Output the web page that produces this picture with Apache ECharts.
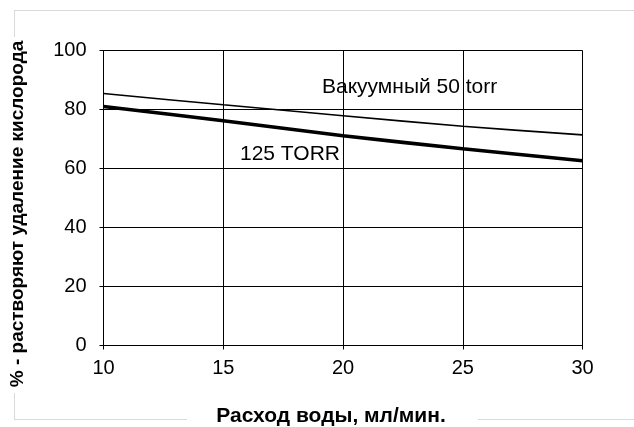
<!DOCTYPE html>
<html>
<head>
<meta charset="utf-8">
<script src="https://cdn.jsdelivr.net/npm/echarts@6/dist/echarts.min.js"></script>
<style>html,body{margin:0;padding:0;background:#fff}#c{width:634px;height:427px}</style>
</head>
<body>
<div id="c"></div>
<script>
var xValues = [10, 15, 20, 25, 30];
var vacuum50 = [85.4, 81.6, 77.9, 74.3, 71.4];
var torr125 = [81.0, 76.2, 71.1, 66.7, 62.6];
var xTitle = 'Расход воды, мл/мин.';
var yTitle = '% - растворяют удаление кислорода';
var label1 = 'Вакуумный 50 torr';
var label2 = '125 TORR';

var FONT = '"Liberation Sans", Arial, sans-serif';
function pairs(xs, ys) { return xs.map(function (x, i) { return [x, ys[i]]; }); }

var chart = echarts.init(document.getElementById('c'), null, { renderer: 'canvas' });
var borderColor = '#d9d9d9';
chart.setOption({
  backgroundColor: '#fff',
  animation: false,
  grid: { left: 103.5, right: 51.5, top: 50.5, bottom: 81.5, containLabel: false },
  xAxis: {
    type: 'value', min: 10, max: 30, interval: 5,
    axisLine: { show: true, lineStyle: { color: '#000', width: 1 } },
    axisTick: { show: true, length: 4, lineStyle: { color: '#000' } },
    axisLabel: { color: '#000', fontSize: 20, fontFamily: FONT, margin: 13 },
    splitLine: { show: true, lineStyle: { color: '#000', width: 1 } }
  },
  yAxis: {
    type: 'value', min: 0, max: 100, interval: 20,
    axisLine: { show: true, lineStyle: { color: '#000', width: 1 } },
    axisTick: { show: true, length: 4, lineStyle: { color: '#000' } },
    axisLabel: { color: '#000', fontSize: 20, fontFamily: FONT, margin: 17 },
    splitLine: { show: true, lineStyle: { color: '#000', width: 1 } }
  },
  series: [
    {
      type: 'line', data: pairs(xValues, vacuum50), smooth: 0.3,
      showSymbol: false, lineStyle: { color: '#000', width: 1.6 }
    },
    {
      type: 'line', data: pairs(xValues, torr125), smooth: 0.3,
      showSymbol: false, lineStyle: { color: '#000', width: 3.6 }
    }
  ],
  graphic: [
    { type: 'line', shape: { x1: 14, y1: 10.5, x2: 634, y2: 10.5 }, style: { stroke: borderColor, lineWidth: 1 } },
    { type: 'line', shape: { x1: 14.5, y1: 10, x2: 14.5, y2: 37 }, style: { stroke: borderColor, lineWidth: 1 } },
    { type: 'line', shape: { x1: 14.5, y1: 393, x2: 14.5, y2: 420 }, style: { stroke: borderColor, lineWidth: 1 } },
    { type: 'line', shape: { x1: 14, y1: 419.5, x2: 187, y2: 419.5 }, style: { stroke: borderColor, lineWidth: 1 } },
    { type: 'line', shape: { x1: 478, y1: 419.5, x2: 634, y2: 419.5 }, style: { stroke: borderColor, lineWidth: 1 } },
    {
      type: 'text', x: 331, y: 416,
      style: { text: xTitle, fill: '#000', font: 'bold 21px ' + FONT, textAlign: 'center', textVerticalAlign: 'middle' }
    },
    {
      type: 'text', x: 18, y: 214, rotation: Math.PI / 2,
      style: { text: yTitle, fill: '#000', font: 'bold 19px ' + FONT, textAlign: 'center', textVerticalAlign: 'middle' }
    },
    {
      type: 'text', x: 322, y: 87,
      style: { text: label1, fill: '#000', font: '21px ' + FONT, textAlign: 'left', textVerticalAlign: 'middle' }
    },
    {
      type: 'text', x: 240, y: 154,
      style: { text: label2, fill: '#000', font: '21px ' + FONT, textAlign: 'left', textVerticalAlign: 'middle' }
    }
  ]
});
</script>
</body>
</html>
